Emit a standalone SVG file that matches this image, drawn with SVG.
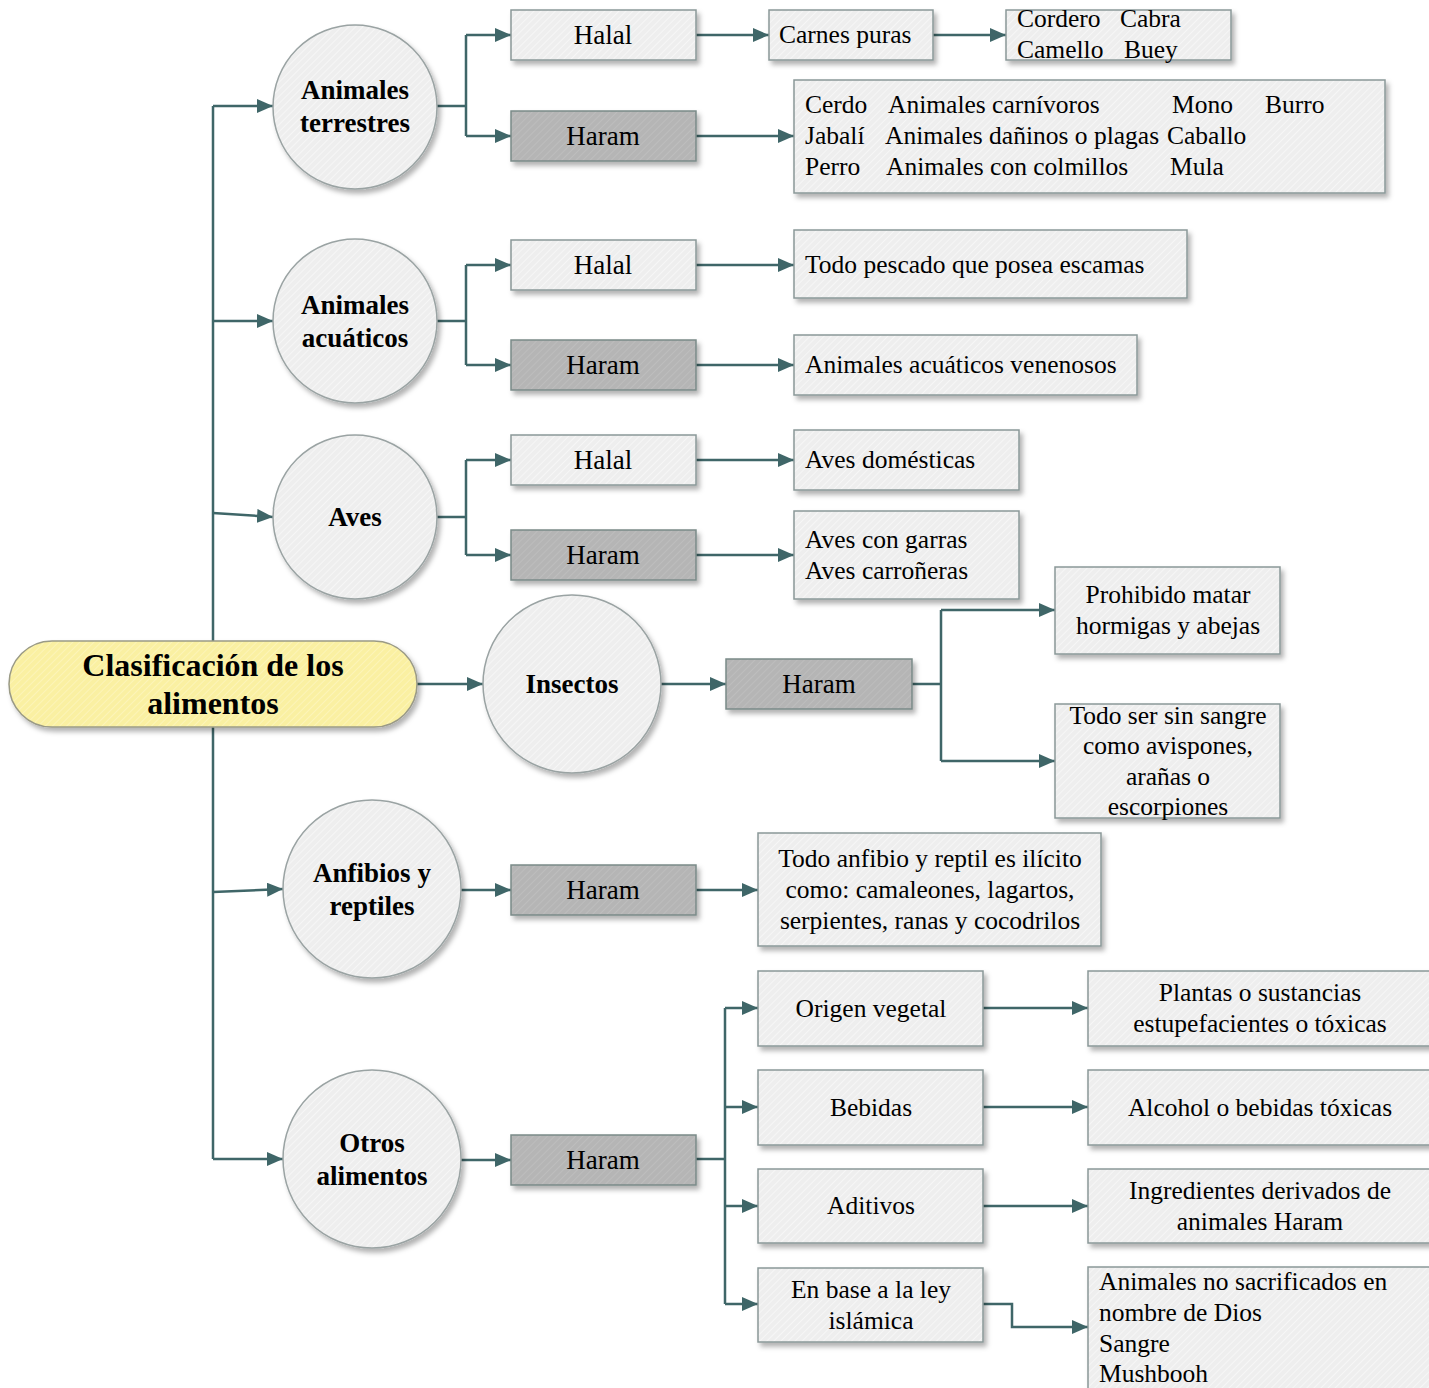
<svg xmlns="http://www.w3.org/2000/svg" width="1429" height="1388" viewBox="0 0 1429 1388">
<defs>
  <pattern id="hLight" patternUnits="userSpaceOnUse" width="5" height="5" patternTransform="rotate(45)">
    <rect width="5" height="5" fill="#eeeeee"/>
    <line x1="0" y1="0" x2="0" y2="5" stroke="#f6f6f6" stroke-width="2"/>
  </pattern>
  <pattern id="hDark" patternUnits="userSpaceOnUse" width="5" height="5" patternTransform="rotate(45)">
    <rect width="5" height="5" fill="#b5b5b5"/>
    <line x1="0" y1="0" x2="0" y2="5" stroke="#bdbdbd" stroke-width="2"/>
  </pattern>
  <pattern id="hYellow" patternUnits="userSpaceOnUse" width="5" height="5" patternTransform="rotate(45)">
    <rect width="5" height="5" fill="#faf0a2"/>
    <line x1="0" y1="0" x2="0" y2="5" stroke="#fcf4b8" stroke-width="2"/>
  </pattern>
  <filter id="sh" x="-10%" y="-10%" width="130%" height="130%">
    <feDropShadow dx="3" dy="4" stdDeviation="2.5" flood-color="#000" flood-opacity="0.3"/>
  </filter>
  <marker id="arr" markerUnits="userSpaceOnUse" markerWidth="16" markerHeight="14" refX="16" refY="7" orient="auto">
    <path d="M0,0 L16,7 L0,14 z" fill="#3f6668"/>
  </marker>
</defs>
<style>
  .lt { fill: url(#hLight); stroke: #8a9898; stroke-width: 1.5; filter: url(#sh); }
  .dk { fill: url(#hDark); stroke: #7a8a88; stroke-width: 1.5; filter: url(#sh); }
  .circ { fill: url(#hLight); stroke: #9aa3a3; stroke-width: 1.5; filter: url(#sh); }
  .root { fill: url(#hYellow); stroke: #9a9a86; stroke-width: 1.5; filter: url(#sh); }
  text { font-family: "Liberation Serif", "Times New Roman", serif; fill: #000; }
  .t { font-size: 25.5px; }
  .tb { font-size: 27px; }
  .c { text-anchor: middle; }
  .b { font-weight: bold; font-size: 27px; text-anchor: middle; }
  .rt { font-weight: bold; font-size: 32px; text-anchor: middle; }
  .con { fill: none; stroke: #3f6668; stroke-width: 2.5; }
  .ar { marker-end: url(#arr); }
</style>

<g id="connectors">
  <path class="con" d="M213,641 V106 M213,727 V1159"/>
  <path class="con ar" d="M213,106 H273"/>
  <path class="con ar" d="M213,321 H273"/>
  <path class="con ar" d="M213,513 L273,517"/>
  <path class="con ar" d="M213,892 L283,889"/>
  <path class="con ar" d="M213,1159 H283"/>
  <path class="con ar" d="M417,684 H483"/>
  <path class="con" d="M437,106 H466 M466,35 V136"/>
  <path class="con ar" d="M466,35 H511"/>
  <path class="con ar" d="M466,136 H511"/>
  <path class="con ar" d="M696,35 H769"/>
  <path class="con ar" d="M933,35 H1006"/>
  <path class="con ar" d="M696,136 H794"/>
  <path class="con" d="M437,321 H466 M466,265 V365"/>
  <path class="con ar" d="M466,265 H511"/>
  <path class="con ar" d="M466,365 H511"/>
  <path class="con ar" d="M696,265 H794"/>
  <path class="con ar" d="M696,365 H794"/>
  <path class="con" d="M437,517 H466 M466,460 V555"/>
  <path class="con ar" d="M466,460 H511"/>
  <path class="con ar" d="M466,555 H511"/>
  <path class="con ar" d="M696,460 H794"/>
  <path class="con ar" d="M696,555 H794"/>
  <path class="con ar" d="M661,684 H726"/>
  <path class="con" d="M912,684 H941 M941,610 V761"/>
  <path class="con ar" d="M941,610 H1055"/>
  <path class="con ar" d="M941,761 H1055"/>
  <path class="con ar" d="M461,890 H511"/>
  <path class="con ar" d="M696,890 H758"/>
  <path class="con ar" d="M461,1160 H511"/>
  <path class="con" d="M696,1159 H725 M725,1008 V1304"/>
  <path class="con ar" d="M725,1008 H758"/>
  <path class="con ar" d="M725,1107 H758"/>
  <path class="con ar" d="M725,1206 H758"/>
  <path class="con ar" d="M725,1304 H758"/>
  <path class="con ar" d="M983,1008 H1088"/>
  <path class="con ar" d="M983,1107 H1088"/>
  <path class="con ar" d="M983,1206 H1088"/>
  <path class="con ar" d="M983,1304 H1012 V1327 H1088"/>
</g>

<g id="root">
  <rect class="root" x="9" y="641" width="408" height="86" rx="43"/>
  <text class="rt" x="213" y="676">Clasificación de los</text>
  <text class="rt" x="213" y="714">alimentos</text>
</g>

<g id="c-terrestres">
  <circle class="circ" cx="355" cy="107" r="82"/>
  <text class="b" x="355" y="99">Animales</text>
  <text class="b" x="355" y="132">terrestres</text>
</g>
<g id="c-acuaticos">
  <circle class="circ" cx="355" cy="321" r="82"/>
  <text class="b" x="355" y="314">Animales</text>
  <text class="b" x="355" y="347">acuáticos</text>
</g>
<g id="c-aves">
  <circle class="circ" cx="355" cy="517" r="82"/>
  <text class="b" x="355" y="526">Aves</text>
</g>
<g id="c-insectos">
  <circle class="circ" cx="572" cy="684" r="89"/>
  <text class="b" x="572" y="693">Insectos</text>
</g>
<g id="c-anfibios">
  <circle class="circ" cx="372" cy="889" r="89"/>
  <text class="b" x="372" y="882">Anfibios y</text>
  <text class="b" x="372" y="915">reptiles</text>
</g>
<g id="c-otros">
  <circle class="circ" cx="372" cy="1159" r="89"/>
  <text class="b" x="372" y="1152">Otros</text>
  <text class="b" x="372" y="1185">alimentos</text>
</g>

<g id="t-halal">
  <rect class="lt" x="511" y="10" width="185" height="50"/>
  <text class="tb c" x="603" y="44">Halal</text>
</g>
<g id="t-haram">
  <rect class="dk" x="511" y="111" width="185" height="50"/>
  <text class="tb c" x="603" y="145">Haram</text>
</g>
<g id="t-carnes">
  <rect class="lt" x="769" y="10" width="164" height="50"/>
  <text class="t" x="779" y="43">Carnes puras</text>
</g>
<g id="t-cordero">
  <rect class="lt" x="1006" y="10" width="225" height="50"/>
  <text class="t" x="1017" y="27">Cordero</text>
  <text class="t" x="1120" y="27">Cabra</text>
  <text class="t" x="1017" y="58">Camello</text>
  <text class="t" x="1124" y="58">Buey</text>
</g>
<g id="t-haram-list">
  <rect class="lt" x="794" y="80" width="591" height="113"/>
  <text class="t" x="805" y="113">Cerdo</text>
  <text class="t" x="888" y="113">Animales carnívoros</text>
  <text class="t" x="1172" y="113">Mono</text>
  <text class="t" x="1265" y="113">Burro</text>
  <text class="t" x="805" y="144">Jabalí</text>
  <text class="t" x="885" y="144">Animales dañinos o plagas</text>
  <text class="t" x="1167" y="144">Caballo</text>
  <text class="t" x="805" y="175">Perro</text>
  <text class="t" x="886" y="175">Animales con colmillos</text>
  <text class="t" x="1170" y="175">Mula</text>
</g>

<g id="a-halal">
  <rect class="lt" x="511" y="240" width="185" height="50"/>
  <text class="tb c" x="603" y="274">Halal</text>
</g>
<g id="a-haram">
  <rect class="dk" x="511" y="340" width="185" height="50"/>
  <text class="tb c" x="603" y="374">Haram</text>
</g>
<g id="a-pescado">
  <rect class="lt" x="794" y="230" width="393" height="68"/>
  <text class="t" x="805" y="273">Todo pescado que posea escamas</text>
</g>
<g id="a-venenosos">
  <rect class="lt" x="794" y="335" width="343" height="60"/>
  <text class="t" x="805" y="373">Animales acuáticos venenosos</text>
</g>

<g id="v-halal">
  <rect class="lt" x="511" y="435" width="185" height="50"/>
  <text class="tb c" x="603" y="469">Halal</text>
</g>
<g id="v-haram">
  <rect class="dk" x="511" y="530" width="185" height="50"/>
  <text class="tb c" x="603" y="564">Haram</text>
</g>
<g id="v-domesticas">
  <rect class="lt" x="794" y="430" width="225" height="60"/>
  <text class="t" x="805" y="468">Aves domésticas</text>
</g>
<g id="v-garras">
  <rect class="lt" x="794" y="511" width="225" height="88"/>
  <text class="t" x="805" y="548">Aves con garras</text>
  <text class="t" x="805" y="579">Aves carroñeras</text>
</g>

<g id="i-haram">
  <rect class="dk" x="726" y="659" width="186" height="50"/>
  <text class="tb c" x="819" y="693">Haram</text>
</g>
<g id="i-prohibido">
  <rect class="lt" x="1055" y="567" width="225" height="87"/>
  <text class="t c" x="1168" y="603">Prohibido matar</text>
  <text class="t c" x="1168" y="634">hormigas y abejas</text>
</g>
<g id="i-sinsangre">
  <rect class="lt" x="1055" y="704" width="225" height="114"/>
  <text class="t c" x="1168" y="724">Todo ser sin sangre</text>
  <text class="t c" x="1168" y="754">como avispones,</text>
  <text class="t c" x="1168" y="785">arañas o</text>
  <text class="t c" x="1168" y="815">escorpiones</text>
</g>

<g id="f-haram">
  <rect class="dk" x="511" y="865" width="185" height="50"/>
  <text class="tb c" x="603" y="899">Haram</text>
</g>
<g id="f-texto">
  <rect class="lt" x="758" y="833" width="343" height="113"/>
  <text class="t c" x="930" y="867">Todo anfibio y reptil es ilícito</text>
  <text class="t c" x="930" y="898">como: camaleones, lagartos,</text>
  <text class="t c" x="930" y="929">serpientes, ranas y cocodrilos</text>
</g>

<g id="o-haram">
  <rect class="dk" x="511" y="1135" width="185" height="50"/>
  <text class="tb c" x="603" y="1169">Haram</text>
</g>
<g id="o-vegetal">
  <rect class="lt" x="758" y="971" width="225" height="75"/>
  <text class="t c" x="871" y="1017">Origen vegetal</text>
</g>
<g id="o-bebidas">
  <rect class="lt" x="758" y="1070" width="225" height="75"/>
  <text class="t c" x="871" y="1116">Bebidas</text>
</g>
<g id="o-aditivos">
  <rect class="lt" x="758" y="1169" width="225" height="74"/>
  <text class="t c" x="871" y="1214">Aditivos</text>
</g>
<g id="o-ley">
  <rect class="lt" x="758" y="1268" width="225" height="74"/>
  <text class="t c" x="871" y="1298">En base a la ley</text>
  <text class="t c" x="871" y="1329">islámica</text>
</g>
<g id="o-plantas">
  <rect class="lt" x="1088" y="971" width="345" height="75"/>
  <text class="t c" x="1260" y="1001">Plantas o sustancias</text>
  <text class="t c" x="1260" y="1032">estupefacientes o tóxicas</text>
</g>
<g id="o-alcohol">
  <rect class="lt" x="1088" y="1070" width="345" height="75"/>
  <text class="t c" x="1260" y="1116">Alcohol o bebidas tóxicas</text>
</g>
<g id="o-ingredientes">
  <rect class="lt" x="1088" y="1169" width="345" height="74"/>
  <text class="t c" x="1260" y="1199">Ingredientes derivados de</text>
  <text class="t c" x="1260" y="1230">animales Haram</text>
</g>
<g id="o-animales">
  <rect class="lt" x="1088" y="1267" width="345" height="125"/>
  <text class="t" x="1099" y="1290">Animales no sacrificados en</text>
  <text class="t" x="1099" y="1321">nombre de Dios</text>
  <text class="t" x="1099" y="1352">Sangre</text>
  <text class="t" x="1099" y="1382">Mushbooh</text>
</g>
</svg>
